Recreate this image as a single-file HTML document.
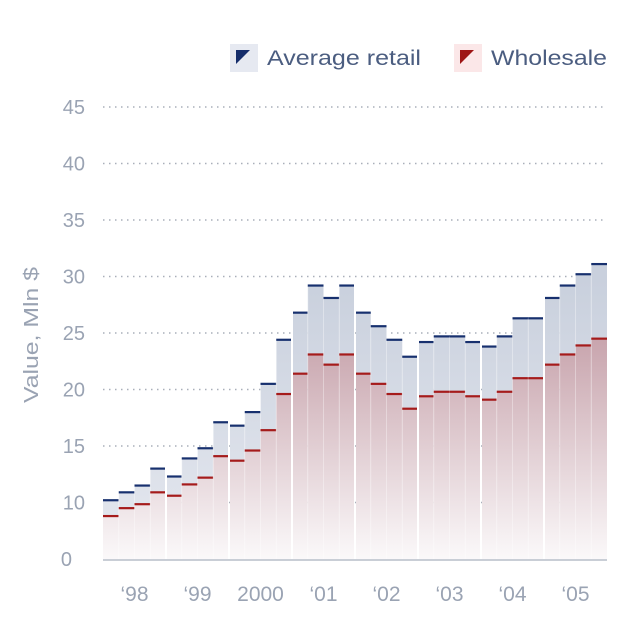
<!DOCTYPE html>
<html><head><meta charset="utf-8"><style>
html,body{margin:0;padding:0;background:#fff;}
svg{display:block;font-family:"Liberation Sans",sans-serif;}
</style></head><body>
<svg id="chart" width="624" height="641" viewBox="0 0 624 641">
<defs>
<linearGradient id="gr" gradientUnits="userSpaceOnUse" x1="0" y1="280" x2="0" y2="560"><stop offset="0" stop-color="#c9d0dd"/><stop offset="1" stop-color="#e6e9f0"/></linearGradient>
<linearGradient id="gw" gradientUnits="userSpaceOnUse" x1="0" y1="330" x2="0" y2="560"><stop offset="0" stop-color="#c6a1aa"/><stop offset="1" stop-color="#fbf9fa"/></linearGradient>
</defs>
<g>
<g>
<rect x="230" y="44" width="28" height="28" fill="#e6e9f1"/>
<polygon points="236,50 250,50 236,64" fill="#152d6b"/>
<text x="267" y="65" font-size="21" fill="#4b5d80" textLength="154" lengthAdjust="spacingAndGlyphs">Average retail</text>
</g>
<g>
<rect x="454" y="44" width="28" height="28" fill="#fbe7e8"/>
<polygon points="460,50 474,50 460,64" fill="#9e1515"/>
<text x="491" y="65" font-size="21" fill="#4b5d80" textLength="116" lengthAdjust="spacingAndGlyphs">Wholesale</text>
</g>
</g>
<text transform="translate(38,335) rotate(-90)" text-anchor="middle" font-size="20" fill="#9aa3b3" textLength="136" lengthAdjust="spacingAndGlyphs">Value, Mln $</text>
<g id="grid"></g><g id="bars"></g><g id="axes"></g>
</svg>
<script>
const years = ["\u201898","\u201899","2000","\u201801","\u201802","\u201803","\u201804","\u201805"];
const retail = [10.2,10.9,11.5,13.0, 12.3,13.9,14.8,17.1, 16.8,18.0,20.5,24.4, 26.8,29.2,28.1,29.2, 26.8,25.6,24.4,22.9, 24.2,24.7,24.7,24.2, 23.8,24.7,26.3,26.3, 28.1,29.2,30.2,31.1];
const wholesale = [8.8,9.5,9.85,10.9, 10.6,11.6,12.2,14.1, 13.7,14.6,16.4,19.6, 21.4,23.1,22.2,23.1, 21.4,20.5,19.6,18.3, 19.4,19.8,19.8,19.4, 19.1,19.8,21.0,21.0, 22.2,23.1,23.9,24.5];
const yTicks = [10,15,20,25,30,35,40,45];
const baseLabel = "0";
const NS="http://www.w3.org/2000/svg";
const X0=103,X1=607,YB=559,YMIN=5,YMAX=45,YT=107;
const qw=(X1-X0)/retail.length;
function y(v){return YB-(v-YMIN)/(YMAX-YMIN)*(YB-YT);}
function x(i){return X0+i*qw;}
function mk(t,a,p){const e=document.createElementNS(NS,t);for(const k in a)e.setAttribute(k,a[k]);p.appendChild(e);return e;}
const grid=document.getElementById('grid'),bars=document.getElementById('bars'),axes=document.getElementById('axes');
yTicks.forEach(v=>{
  const l=mk('line',{x1:X0,x2:X1,y1:y(v),y2:y(v),stroke:'#a9afba','stroke-width':1.5,'stroke-dasharray':'1.5 4.5'},grid);
  
  
  const t=mk('text',{x:85,y:y(v)+7,'text-anchor':'end','font-size':20,fill:'#9aa3b3'},axes);
  t.textContent=v;
  
  
});
const t0=mk('text',{x:72,y:YB+7,'text-anchor':'end','font-size':20,fill:'#9aa3b3'},axes);
t0.textContent=baseLabel;


retail.forEach((r,i)=>{
  const w=wholesale[i];
  const g=mk('g',{},bars);
  
  
  const left=x(i)+(i%4===0&&i>0?1:0), right=x(i+1)-(i%4===3&&i<retail.length-1?1:0);
  mk('rect',{x:left,y:y(r),width:right-left,height:y(w)-y(r),fill:'url(#gr)'},g);
  mk('rect',{x:left,y:y(w),width:right-left,height:YB-y(w),fill:'url(#gw)'},g);
  if(i%4!==0) mk('line',{x1:x(i),x2:x(i),y1:y(r),y2:YB,stroke:'#ffffff','stroke-opacity':0.35,'stroke-width':1},g);
  mk('line',{x1:left,x2:right,y1:y(r),y2:y(r),stroke:'#17306e','stroke-width':2.2},g);
  mk('line',{x1:left,x2:right,y1:y(w),y2:y(w),stroke:'#a51b1b','stroke-width':2.2},g);
});
const ax=mk('line',{x1:X0,x2:X1,y1:YB+1,y2:YB+1,stroke:'#b7bdc8','stroke-width':1.5},axes);


years.forEach((yr,k)=>{
  const t=mk('text',{x:x(k*4+2),y:601,'text-anchor':'middle','font-size':21,fill:'#9aa3b3'},axes);
  t.textContent=yr;
  
  
});
</script>
</body></html>
